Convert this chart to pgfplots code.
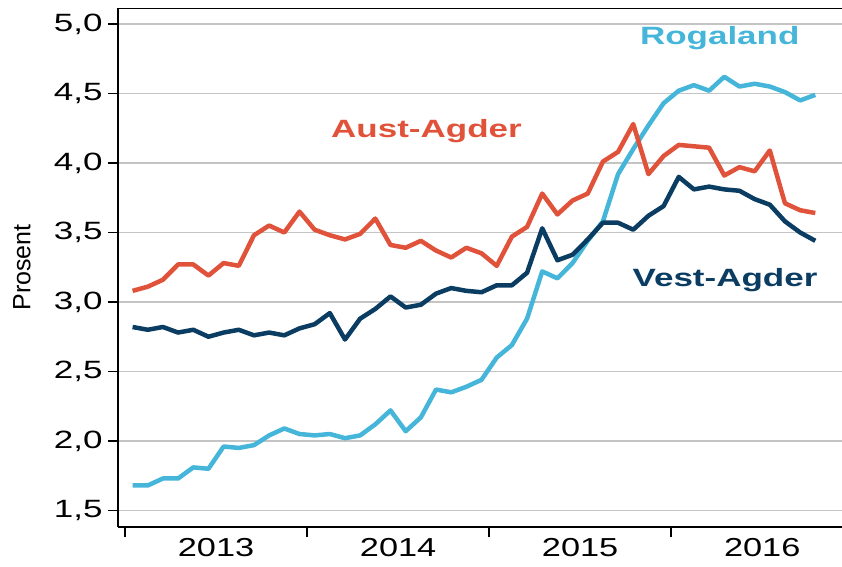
\documentclass[border=0pt]{standalone}
\usepackage{fontspec}
\setmainfont{Liberation Sans}[FakeStretch=1.4]
\newfontfamily\plainfont{Liberation Sans}
\newfontfamily\yearfont{Liberation Sans}[FakeStretch=1.32]
\usepackage{pgfplots}
\pgfplotsset{compat=1.18}
\definecolor{roga}{RGB}{69,182,218}
\definecolor{aust}{RGB}{224,82,58}
\definecolor{vest}{RGB}{11,61,98}
\definecolor{gridc}{RGB}{196,196,196}

\pgfplotstableread{
i roga aust vest
0 1.68 3.08 2.82
1 1.68 3.11 2.80
2 1.73 3.16 2.82
3 1.73 3.27 2.78
4 1.81 3.27 2.80
5 1.80 3.19 2.75
6 1.96 3.28 2.78
7 1.95 3.26 2.80
8 1.97 3.48 2.76
9 2.04 3.55 2.78
10 2.09 3.50 2.76
11 2.05 3.65 2.81
12 2.04 3.52 2.84
13 2.05 3.48 2.92
14 2.02 3.45 2.73
15 2.04 3.49 2.88
16 2.12 3.60 2.95
17 2.22 3.41 3.04
18 2.07 3.39 2.96
19 2.17 3.44 2.98
20 2.37 3.37 3.06
21 2.35 3.32 3.10
22 2.39 3.39 3.08
23 2.44 3.35 3.07
24 2.60 3.26 3.12
25 2.69 3.47 3.12
26 2.88 3.54 3.21
27 3.22 3.78 3.53
28 3.17 3.63 3.30
29 3.28 3.73 3.34
30 3.44 3.78 3.45
31 3.58 4.01 3.57
32 3.92 4.08 3.57
33 4.10 4.28 3.52
34 4.27 3.92 3.62
35 4.43 4.05 3.69
36 4.52 4.13 3.90
37 4.56 4.12 3.81
38 4.52 4.11 3.83
39 4.62 3.91 3.81
40 4.55 3.97 3.80
41 4.57 3.94 3.74
42 4.55 4.09 3.70
43 4.51 3.71 3.58
44 4.45 3.66 3.50
45 4.49 3.64 3.44
}\datatable

\begin{document}
\begin{tikzpicture}
\useasboundingbox (0pt,0pt) rectangle (842pt,566pt);
\begin{axis}[
  at={(118pt,39pt)}, anchor=south west,
  scale only axis, width=724pt, height=519pt,
  xmin=-0.962, xmax=46.76, ymin=1.381, ymax=5.115,
  axis x line*=bottom, axis y line*=left,
  axis line style={line width=2pt, black, -},
  xtick={-0.5,11.5,23.5,35.5}, xticklabels={},
  extra x ticks={5.5,17.5,29.5,41.5},
  extra x tick labels={2013,2014,2015,2016},
  extra x tick style={major tick length=0pt, grid=none,
     tick label style={font=\yearfont\fontsize{26}{30}\selectfont, yshift=-8pt}},
  ytick={1.5,2.0,2.5,3.0,3.5,4.0,4.5,5.0},
  ymajorgrids, grid style={gridc, line width=1.5pt},
  tick style={black, line width=1.5pt},
  major tick length=10pt,
  tick align=outside,
  /pgf/number format/.cd, use comma, fixed, fixed zerofill, precision=1, assume math mode=true,
  /pgfplots/.cd,
  yticklabel style={font=\fontsize{25}{29}\selectfont, xshift=-2pt},
  ylabel={\plainfont\fontsize{25}{29}\selectfont Prosent},
  every axis y label/.style={at={(rel axis cs:-0.1326,0.5)}, anchor=center, rotate=90},
  every axis plot/.append style={line width=4.5pt, line join=round, no markers},
]
\addplot[roga] table[x=i, y=roga] {\datatable};
\addplot[vest] table[x=i, y=vest] {\datatable};
\addplot[aust] table[x=i, y=aust] {\datatable};
\draw[line width=2pt, black] (rel axis cs:0,1) -- (rel axis cs:1,1);
\node[anchor=base, text=roga, font=\bfseries\fontsize{25}{30}\selectfont] at (axis cs:38.7,4.849) {Rogaland};
\node[anchor=base, text=aust, font=\bfseries\fontsize{25}{30}\selectfont] at (axis cs:19.37,4.182) {Aust-Agder};
\node[anchor=base, text=vest, font=\bfseries\fontsize{25}{30}\selectfont] at (axis cs:39.05,3.110) {Vest-Agder};
\end{axis}
\end{tikzpicture}
\end{document}
